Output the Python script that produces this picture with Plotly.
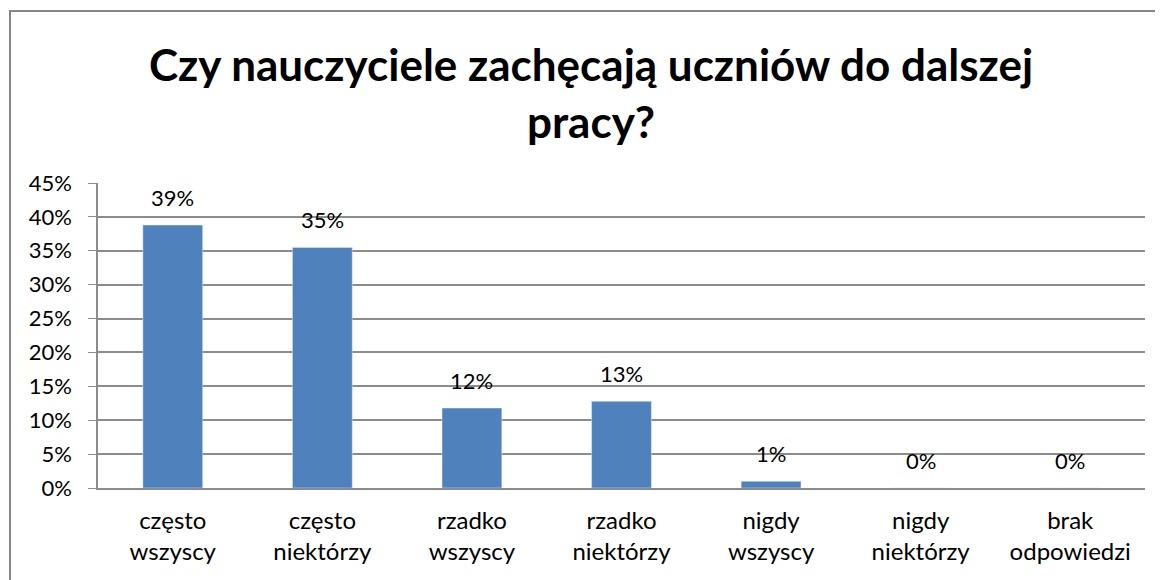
import plotly.graph_objects as go

categories = ["często<br>wszyscy", "często<br>niektórzy", "rzadko<br>wszyscy", "rzadko<br>niektórzy",
              "nigdy<br>wszyscy", "nigdy<br>niektórzy", "brak<br>odpowiedzi"]
values = [0.388, 0.355, 0.118, 0.128, 0.010, 0.0, 0.0]
labels = ["39%", "35%", "12%", "13%", "1%", "0%", "0%"]
y_ticks = [0, 0.05, 0.10, 0.15, 0.20, 0.25, 0.30, 0.35, 0.40, 0.45]

FONT = "Lato"
GRID = "#8c8c8c"

fig = go.Figure(go.Bar(x=categories, y=values, marker_color="#4f81bd", width=0.4, hoverinfo="skip"))

for c, v, t in zip(categories, values, labels):
    fig.add_annotation(x=c, y=v, text=t, showarrow=False, yshift=28,
                       font=dict(family=FONT, size=22, color="#000"))

# page body adds 8px, so the figure is drawn 8px smaller/earlier
W, H = 1155, 572
L, R, T, B = 90, 18, 175, 92
pw, ph = W - L - R, H - T - B
# outer chart frame
fig.add_shape(type="rect", xref="paper", yref="paper",
              x0=(2 - L) / pw, x1=(W + 5 - L) / pw,
              y0=-(B + 5) / ph, y1=1 + (T - 3) / ph,
              line=dict(color="#868686", width=2))

fig.update_layout(
    width=W, height=H,
    margin=dict(l=L, r=R, t=T, b=B, autoexpand=False),
    plot_bgcolor="white", paper_bgcolor="white",
    showlegend=False,
    title=dict(text="<b>Czy nauczyciele zachęcają uczniów do dalszej<br>pracy?</b>",
               x=0.5048, xanchor="center", y=0.8725, yanchor="middle",
               font=dict(family=FONT, size=44, color="#000")),
    font=dict(family=FONT, size=22, color="#000"),
)
fig.update_yaxes(range=[0, 0.45], tickvals=y_ticks, tickformat=".0%",
                 showgrid=True, gridcolor=GRID, gridwidth=1.5,
                 showline=True, linecolor=GRID, linewidth=1.5,
                 ticks="outside", ticklen=8, tickcolor=GRID,
                 ticklabelstandoff=12, zeroline=False, automargin=False)
fig.update_xaxes(showline=True, linecolor=GRID, linewidth=1.5, ticks="",
                 ticklabelstandoff=10, automargin=False,
                 tickfont=dict(family=FONT, size=24, color="#000"))

fig.write_html("out.html")
